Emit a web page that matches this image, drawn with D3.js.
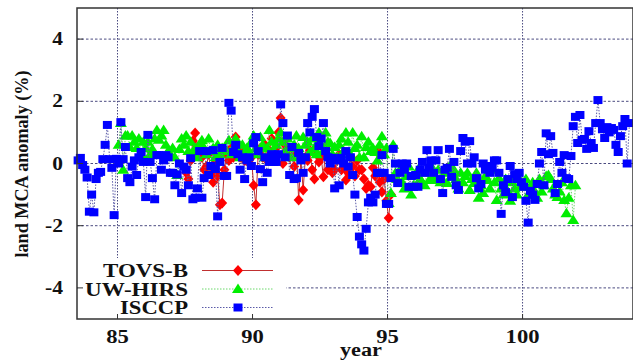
<!DOCTYPE html>
<html lang="en">
<head>
<meta charset="UTF-8">
<title>land MCA anomaly</title>
<script src="https://d3js.org/d3.v7.min.js"></script>
<style>
  body { margin: 0; background: #fff; }
</style>
</head>
<body>
<div id="chart"></div>
<script>
// monthly anomalies (%), one row per year
var isccpStart = 83.5;
var isccp = [
  0.1, 0.18, -0.05, -0.2, -0.45, -1.55,
  -1.0, -1.57, -0.5, -0.3, -0.27, 0.14, 0.6, 1.24, 0.14, -0.14, -1.66, 0.15,
  0.0, 1.33, 0.14, 0.53, -0.47, -0.6, -0.1, 0.1, -0.37, 0.2, 0.37, 0.05,
  -1.08, 0.92, 0.05, -0.47, -1.15, 0.27, 0.27, -0.2, 0.1, 0.27, 0.2, -0.3,
  -0.3, -0.7, -0.35, 0.0, -0.95, -0.1, -0.2, -0.7, 0.17, -1.15, -1.1, -0.8,
  0.4, -1.1, -0.47, 0.4, -0.37, -0.08, 0.43, -0.18, -1.7, 0.05, 0.5, -0.4,
  -0.4, 1.95, 1.7, 0.37, 0.6, 0.3, -0.2, 0.2, -0.5, 0.1, 0.2, -0.08,
  0.65, 0.85, 0.4, -0.18, -0.6, 0.2, -0.3, 0.05, 0.3, 0.05, 0.05, 0.3,
  1.9, 1.3, 0.2, 0.9, -0.37, 0.53, -0.5, -0.47, 0.34, 0.1, -0.3, 0.2,
  1.3, 1.0, 1.5, 1.75, 0.85, 0.56, 0.8, 1.3, 0.4, 0.2, 0.0, 0.18,
  -0.8, 0.1, -0.7, 0.18, 0.0, 0.4, -0.1, 0.2, -0.37, -1.0, -1.72, -2.35,
  -2.6, -2.8, -2.1, -1.25, -1.1, -1.25, -1.0, -0.3, -0.3, 0.27, -0.3, -1.3,
  -1.3, -0.47, 0.47, 0.0, -0.63, -0.3, 0.0, -0.2, 0.0, -0.75, -0.4, -0.75,
  -0.37, -0.75, -0.2, 0.05, -0.3, 0.43, -0.14, 0.1, -0.3, 0.1, 0.43, -0.5,
  -0.95, -0.2, -0.14, 0.47, -0.43, 0.05, -0.7, -0.85, 0.4, 0.82, 0.7, 0.0,
  0.72, 0.0, 0.2, -0.47, -0.8, -0.66, 0.0, -0.2, -0.08, -0.3, -0.14, 0.1,
  0.1, -0.3, -1.62, -0.7, -0.92, -0.5, -0.08, -1.08, -0.34, -0.5, -0.3, -0.6,
  -0.75, -1.2, -1.9, -0.88, -1.0, -1.17, -0.66, 0.0, 0.37, -0.7, 0.97, 0.3,
  0.88, 0.34, -0.95, -0.66, 0.05, -0.3, 0.27, -0.47, -0.5, 0.24, 1.2, 1.5,
  0.66, 1.56, 0.76, 0.79, 0.47, 1.04, 0.66, 0.5, 1.3, 2.04, 1.3, 1.1,
  0.82, 1.17, 1.0, 1.14, 1.08, 0.6, 0.37, 0.88, 1.2, 1.43, 0.0, 1.3
];

var uwStart = 85;
var uwhirs = [
  0.6, 1.3, -0.2, 0.9, 0.9, 0.53, 0.9, 0.7, 0.5, 0.8, 0.3, 0.7,
  0.5, 0.7, 0.3, 0.47, 0.8, 1.08, 0.76, 0.9, 1.08, 0.6, 0.4, 0.3,
  0.5, 0.2, -0.37, 0.47, 0.8, 0.6, 0.9, 0.4, 0.7, 0.3, 0.5, 0.2,
  0.6, 0.75, 0.5, 0.3, 0.8, 0.4, 0.5, 0.2, 0.6, 0.3, 0.5, 0.4,
  0.4, 0.75, 0.3, 0.5, 0.8, 0.4, 0.2, 0.6, 0.3, 0.5, 0.4, 0.7,
  0.9, 0.5, 0.3, 0.85, 0.6, 0.2, 0.5, 1.08, 0.7, 0.4, 0.6, 0.8,
  1.0, 0.7, 0.4, 0.8, 0.5, 0.2, 0.6, 0.9, 0.5, 0.3, 0.85, 0.6,
  0.7, 0.37, 0.8, 0.5, 0.3, 1.0, 0.6, 0.4, 1.0, 0.7, 0.66, 0.3,
  0.53, 0.2, 0.6, 0.8, 0.4, 1.0, 0.7, 0.3, 1.0, 0.5, 0.6, 0.2,
  0.88, 0.2, 0.53, 0.7, 0.4, 0.5, 0.37, 0.1, 0.6, 0.88, 0.3, 0.5,
  -1.27, -0.95, 0.6, -0.3, -0.5, -0.2, -0.6, -0.8, -0.4, -0.1, -1.0, -0.7,
  -0.4, -0.2, -0.5, -0.6, -0.7, -0.3, -0.53, -0.1, -0.4, -0.53, -0.2, -0.6,
  -0.53, -0.3, -0.63, -0.1, -0.4, -0.2, -0.5, -0.8, -0.3, -0.6, -0.4, -0.3,
  -0.85, -0.5, -0.63, -0.3, -1.1, -0.7, -0.95, -0.4, -0.53, -0.8, -0.2, -0.6,
  -1.17, -0.47, -0.8, -1.0, -0.5, -0.9, -1.2, -0.6, -0.8, -1.0, -0.5, -0.7,
  -0.75, -0.5, -1.0, -0.75, -0.6, -0.9, -1.1, -0.5, -0.9, -0.7, -0.4, -0.37,
  -0.5, -0.8, -1.0, -1.08, -0.9, -0.6, -1.17, -1.6, -1.1, -0.7, -1.82, -0.7
];

var tovsStart = 87.5;
var tovsb = [
  -0.3, -0.5, 0.1, 0.72, 0.98, 0.3,
  0.56, 0.2, -0.2, -0.1, 0.3, -0.3, -0.6, 0.1, -0.4, -1.33, -1.27, -0.2,
  0.3, 0.1, 0.5, 0.2, 0.85, 0.6, 0.2, 0.4, 0.1, 0.3, 0.0, 0.2,
  -0.7, -1.33, 0.3, 0.5, 0.2, 0.6, 0.1, 0.4, 0.8, 0.15, 0.5, 1.0,
  1.46, 0.0, 0.6, 0.47, 0.2, 0.3, -0.1, 0.5, -1.17, 0.15, -0.85, 0.2,
  0.1, 0.43, -0.2, -0.5, 0.3, 0.05, 0.2, -0.43, 0.5, -0.2, 0.1, -0.3,
  -0.2, 0.1, 0.3, -0.2, 0.0, -0.53, -0.3, 0.2, -0.1, -0.4, 0.1, -0.2,
  -0.2, -0.5, -0.8, -0.7, -0.75, -0.14, -0.4, 0.43, -0.6, -0.92, -0.5, -1.2,
  -1.75, -1.0
];

var xTicks = [85, 90, 95, 100];
var yTicks = [-4, -2, 0, 2, 4];
var seriesNames = ["TOVS-B", "UW-HIRS", "ISCCP"];

var width = 633, height = 361;
var plotL = 77, plotR = 633, plotT = 8, plotB = 319;
var fontFam = "'Liberation Serif', 'Times New Roman', Times, 'DejaVu Serif', serif";

var svg = d3.select("#chart").append("svg")
    .attr("width", width)
    .attr("height", height);

var x = d3.scaleLinear().domain([83.5, 104.09]).range([plotL, plotR]);
var y = d3.scaleLinear().domain([-5, 5]).range([plotB, plotT]);

function monthly(start, vals) {
  return vals.map(function (v, i) { return { t: start + (i + 0.5) / 12, v: v }; });
}

// grid
var gridColor = "#4a4a80";
svg.selectAll(".gx").data(xTicks).enter().append("line")
    .attr("x1", function (d) { return x(d); }).attr("x2", function (d) { return x(d); })
    .attr("y1", plotT).attr("y2", plotB)
    .attr("stroke", gridColor).attr("stroke-width", 1).attr("stroke-dasharray", "1.5,1.5");
svg.selectAll(".gy").data(yTicks).enter().append("line")
    .attr("x1", plotL).attr("x2", plotR)
    .attr("y1", function (d) { return y(d); }).attr("y2", function (d) { return y(d); })
    .attr("stroke", gridColor).attr("stroke-width", 1).attr("stroke-dasharray", "2.5,2");

var line = d3.line().x(function (d) { return x(d.t); }).y(function (d) { return y(d.v); });

var styles = {
  "TOVS-B": { color: "#ff0000", line: "#c03030", dash: null, shape: "diamond" },
  "UW-HIRS": { color: "#00ee00", line: "#6ad86a", dash: "1.5,1.5", shape: "triangle" },
  "ISCCP": { color: "#0000ff", line: "#5a5aa8", dash: "1.5,1.5", shape: "square" }
};

function shapePath(shape) {
  if (shape === "diamond") return "M0,-5.5L5,0L0,5.5L-5,0Z";
  if (shape === "triangle") return "M0,-5.5L6,4L-6,4Z";
  return "M-4.5,-4L4.5,-4L4.5,4L-4.5,4Z";
}

function drawSeries(name, pts) {
  var s = styles[name];
  svg.append("path").datum(pts)
      .attr("d", line)
      .attr("fill", "none")
      .attr("stroke", s.line)
      .attr("stroke-width", 1)
      .attr("stroke-dasharray", s.dash);
  svg.append("g").selectAll("path").data(pts).enter().append("path")
      .attr("transform", function (d) { return "translate(" + x(d.t) + "," + y(d.v) + ")"; })
      .attr("d", shapePath(s.shape))
      .attr("fill", s.color);
}

drawSeries("TOVS-B", monthly(tovsStart, tovsb));
drawSeries("UW-HIRS", monthly(uwStart, uwhirs));
drawSeries("ISCCP", monthly(isccpStart, isccp));

// legend box
svg.append("rect").attr("x", plotL + 1).attr("y", 258).attr("width", 208).attr("height", plotB - 259)
    .attr("fill", "#fff");

// frame and ticks
svg.append("rect").attr("x", plotL).attr("y", plotT).attr("width", plotR - plotL).attr("height", plotB - plotT)
    .attr("fill", "none").attr("stroke", "#333").attr("stroke-width", 1.5);
svg.selectAll(".tx").data(xTicks).enter().append("line")
    .attr("x1", function (d) { return x(d); }).attr("x2", function (d) { return x(d); })
    .attr("y1", plotB).attr("y2", plotB - 5).attr("stroke", "#333");
svg.selectAll(".ty").data(yTicks).enter().append("line")
    .attr("x1", plotL).attr("x2", plotL + 6)
    .attr("y1", function (d) { return y(d); }).attr("y2", function (d) { return y(d); })
    .attr("stroke", "#333");

function label(txt, px, py, anchor, len, size) {
  return svg.append("text")
      .attr("x", px).attr("y", py)
      .attr("text-anchor", anchor)
      .attr("font-family", fontFam)
      .attr("font-weight", "bold")
      .attr("fill", "#111")
      .attr("font-size", size || 18)
      .attr("textLength", len)
      .attr("lengthAdjust", "spacingAndGlyphs")
      .text(txt);
}

xTicks.forEach(function (d) {
  label(String(d), x(d), 343, "middle", String(d).length * 11.3);
});
yTicks.forEach(function (d) {
  var t = String(d);
  label(t, 63, y(d) + 6, "end", t.length === 1 ? 10.7 : 18);
});

label("year", 361, 356, "middle", 42);
label("land MCA anomaly (%)", 0, 0, "middle", 187)
    .attr("transform", "translate(28,164) rotate(-90)");

// legend entries
var legendY = [270.5, 289, 307.5];
var legendLen = [85, 103, 68];
seriesNames.forEach(function (name, i) {
  var s = styles[name];
  var ly = legendY[i];
  label(name, 188, ly + 6.5, "end", legendLen[i]);
  svg.append("line").attr("x1", 202).attr("x2", 273).attr("y1", ly).attr("y2", ly)
      .attr("stroke", s.line).attr("stroke-width", 1).attr("stroke-dasharray", s.dash);
  svg.append("path").attr("transform", "translate(238," + ly + ")")
      .attr("d", shapePath(s.shape)).attr("fill", s.color);
});
</script>
</body>
</html>
